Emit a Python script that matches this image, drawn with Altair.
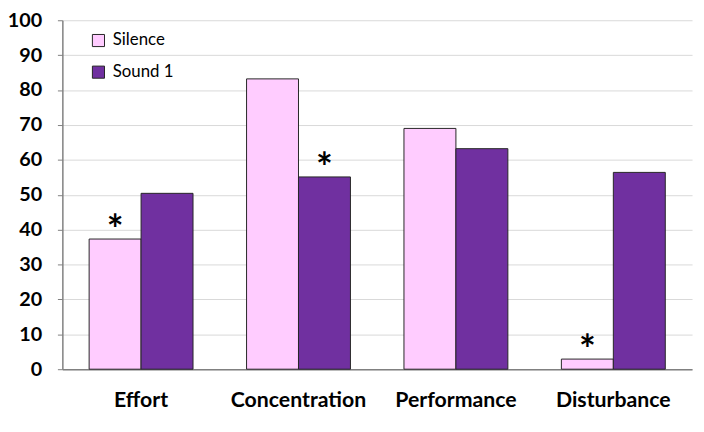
import altair as alt
import pandas as pd

categories = ["Effort", "Concentration", "Performance", "Disturbance"]
series = ["Silence", "Sound 1"]
silence = [37.3, 83.2, 69.0, 2.9]
sound1 = [50.4, 55.1, 63.2, 56.4]
# significance markers: (category, series)
stars = [("Effort", "Silence"), ("Concentration", "Sound 1"), ("Disturbance", "Silence")]

rows = []
for i, c in enumerate(categories):
    rows.append({"category": c, "series": "Silence", "value": silence[i]})
    rows.append({"category": c, "series": "Sound 1", "value": sound1[i]})
df = pd.DataFrame(rows)

star_rows = []
for c, s in stars:
    v = df[(df.category == c) & (df.series == s)].value.iloc[0]
    star_rows.append({"category": c, "series": s, "value": v, "label": "*"})
sdf = pd.DataFrame(star_rows)

FONT = "Lato"

x = alt.X("category:N", sort=categories, title=None,
          scale=alt.Scale(paddingInner=0.34, paddingOuter=0.17),
          axis=alt.Axis(labelAngle=0, labelFontSize=21.5, labelFontWeight="bold",
                        labelColor="black", labelPadding=21, ticks=False,
                        domainColor="#808080", domainWidth=1.5, labelFont=FONT))
xo = alt.XOffset("series:N", sort=series)
y = alt.Y("value:Q", title=None,
          scale=alt.Scale(domain=[0, 100], nice=False),
          axis=alt.Axis(values=list(range(0, 101, 10)), labelFontSize=20,
                        labelFontWeight="bold", labelColor="black", labelFont=FONT,
                        labelOverlap=False, tickSize=5, tickColor="#808080",
                        domainColor="#808080", domainWidth=1.5, labelPadding=16,
                        gridColor="#d9d9d9", gridWidth=1))

bars = alt.Chart(df).mark_bar(stroke="#262626", strokeWidth=1).encode(
    x=x,
    xOffset=xo,
    y=y,
    color=alt.Color("series:N", sort=series,
                    scale=alt.Scale(domain=series, range=["#FFCCFF", "#7030A0"]),
                    legend=alt.Legend(title=None, orient="none", legendX=28, legendY=12,
                                      symbolType="square", symbolSize=150,
                                      symbolStrokeColor="#262626", symbolStrokeWidth=1,
                                      labelFontSize=17, labelFont=FONT, labelColor="black",
                                      rowPadding=14, labelOffset=6, padding=0)),
)

star_marks = alt.Chart(sdf).mark_text(fontSize=40, fontWeight="bold", font=FONT,
                                      baseline="middle", dy=-7, color="black").encode(
    x=x,
    xOffset=xo,
    y=y,
    text="label:N",
)

chart = alt.layer(bars, star_marks).properties(
    width=637, height=353,
    autosize=alt.AutoSizeParams(type="none"),
    padding={"left": 55, "top": 10, "right": 4, "bottom": 50},
).configure_view(stroke=None).configure_axisX(grid=False)

chart.save("out.html", embed_options={"renderer": "svg", "actions": False})
